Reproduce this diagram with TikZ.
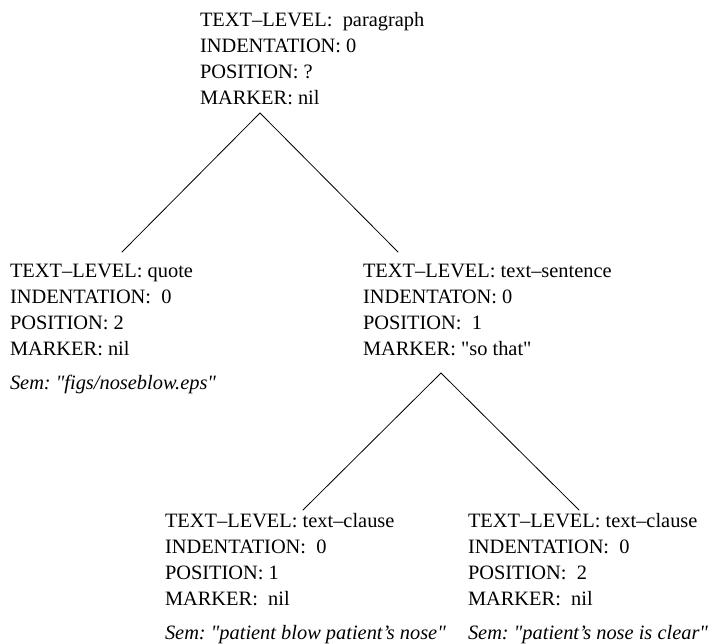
\documentclass[tikz,border=0pt]{standalone}
\usepackage{fontspec}
% no TeX mapping, so " prints as a straight quote
\setmainfont{Liberation Serif}[Ligatures=TeXOff]
\begin{document}
\frenchspacing
\fontsize{20.4}{26}\selectfont
\begin{tikzpicture}[x=1pt,y=-1pt,
  fs/.style={anchor=base west,inner sep=0pt,outer sep=0pt},
  branch/.style={line width=0.8pt,line cap=round}]
\useasboundingbox (0,0) rectangle (715,643);

% feature structures, one tabular each, aligned on the first baseline
\node[fs] (root) at (200,26.5) {\begin{tabular}[t]{@{}l@{}}
TEXT–LEVEL:~ paragraph\\
INDENTATION: 0\\
POSITION: ?\\
MARKER: nil
\end{tabular}};

\node[fs] (quote) at (10,277.5) {\begin{tabular}[t]{@{}l@{}}
TEXT–LEVEL: quote\\
INDENTATION:~ 0\\
POSITION: 2\\
MARKER: nil\\[8pt]
\textit{Sem: "figs/noseblow.eps"}
\end{tabular}};

\node[fs] (sent) at (363,277.5) {\begin{tabular}[t]{@{}l@{}}
TEXT–LEVEL: text–sentence\\
INDENTATON: 0\\
POSITION:~ 1\\
MARKER: "so that"
\end{tabular}};

\node[fs] (clauseA) at (165,527) {\begin{tabular}[t]{@{}l@{}}
TEXT–LEVEL: text–clause\\
INDENTATION:~ 0\\
POSITION: 1\\
MARKER:~ nil\\[8pt]
\textit{Sem: "patient blow patient’s nose"}
\end{tabular}};

\node[fs] (clauseB) at (468,527) {\begin{tabular}[t]{@{}l@{}}
TEXT–LEVEL: text–clause\\
INDENTATION:~ 0\\
POSITION:~ 2\\
MARKER:~ nil\\[8pt]
\textit{Sem: "patient’s nose is clear"}
\end{tabular}};

% branch points
\coordinate (root-b) at (260,113);
\coordinate (quote-t) at (122,252);
\coordinate (sent-t) at (398,252);
\coordinate (sent-b) at (441,373);
\coordinate (clauseA-t) at (303,510);
\coordinate (clauseB-t) at (579,510);

\draw[branch] (quote-t) -- (root-b) -- (sent-t);
\draw[branch] (clauseA-t) -- (sent-b) -- (clauseB-t);
\end{tikzpicture}
\end{document}
